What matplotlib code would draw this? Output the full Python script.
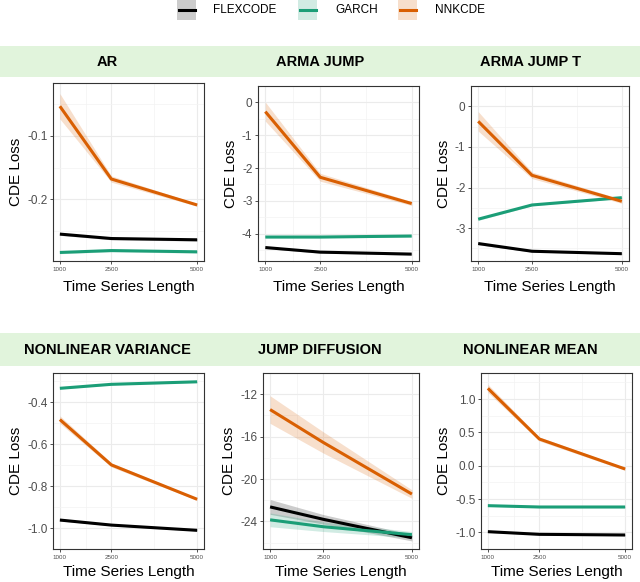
import matplotlib
matplotlib.use("Agg")
import matplotlib.pyplot as plt
from matplotlib.lines import Line2D
from matplotlib.patches import Rectangle
import numpy as np

plt.rcParams['font.family'] = ['Liberation Sans', 'DejaVu Sans']

lengths = [1000, 2500, 5000]
methods = ["FLEXCODE", "GARCH", "NNKCDE"]
colors = {"FLEXCODE": "#000000", "GARCH": "#1B9E77", "NNKCDE": "#D95F02"}

titles = ["AR", "ARMA JUMP", "ARMA JUMP T",
          "NONLINEAR VARIANCE", "JUMP DIFFUSION", "NONLINEAR MEAN"]

# mean CDE loss per method, per panel
ar_mean = {"FLEXCODE": [-0.255, -0.262, -0.264],
           "GARCH": [-0.284, -0.281, -0.283],
           "NNKCDE": [-0.053, -0.168, -0.209]}
ar_half = {"FLEXCODE": [0.002, 0.002, 0.002],
           "GARCH": [0.002, 0.002, 0.002],
           "NNKCDE": [0.020, 0.005, 0.002]}

armaj_mean = {"FLEXCODE": [-4.42, -4.56, -4.62],
              "GARCH": [-4.10, -4.10, -4.07],
              "NNKCDE": [-0.28, -2.28, -3.08]}
armaj_half = {"FLEXCODE": [0.03, 0.03, 0.03],
              "GARCH": [0.03, 0.03, 0.03],
              "NNKCDE": [0.29, 0.12, 0.06]}

armajt_mean = {"FLEXCODE": [-3.38, -3.57, -3.63],
               "GARCH": [-2.78, -2.43, -2.25],
               "NNKCDE": [-0.37, -1.70, -2.34]}
armajt_half = {"FLEXCODE": [0.03, 0.02, 0.02],
               "GARCH": [0.03, 0.02, 0.02],
               "NNKCDE": [0.24, 0.08, 0.05]}

nlv_mean = {"FLEXCODE": [-0.962, -0.986, -1.011],
            "GARCH": [-0.334, -0.315, -0.303],
            "NNKCDE": [-0.483, -0.699, -0.863]}
nlv_half = {"FLEXCODE": [0.004, 0.003, 0.003],
            "GARCH": [0.003, 0.003, 0.003],
            "NNKCDE": [0.018, 0.010, 0.005]}

jd_mean = {"FLEXCODE": [-22.63, -23.80, -25.54],
           "GARCH": [-23.85, -24.50, -25.25],
           "NNKCDE": [-13.45, -16.55, -21.42]}
jd_half = {"FLEXCODE": [0.70, 0.45, 0.30],
           "GARCH": [0.65, 0.45, 0.30],
           "NNKCDE": [1.30, 1.00, 0.40]}

nlm_mean = {"FLEXCODE": [-0.99, -1.03, -1.04],
            "GARCH": [-0.60, -0.62, -0.62],
            "NNKCDE": [1.16, 0.40, -0.05]}
nlm_half = {"FLEXCODE": [0.01, 0.01, 0.01],
            "GARCH": [0.01, 0.01, 0.01],
            "NNKCDE": [0.06, 0.03, 0.02]}

means = [ar_mean, armaj_mean, armajt_mean, nlv_mean, jd_mean, nlm_mean]
halves = [ar_half, armaj_half, armajt_half, nlv_half, jd_half, nlm_half]

yticks = [[-0.1, -0.2], [0, -1, -2, -3, -4], [0, -1, -2, -3],
          [-0.4, -0.6, -0.8, -1.0], [-12, -16, -20, -24],
          [1.0, 0.5, 0.0, -0.5, -1.0]]
ytick_labels = [["-0.1", "-0.2"], ["0", "-1", "-2", "-3", "-4"],
                ["0", "-1", "-2", "-3"], ["-0.4", "-0.6", "-0.8", "-1.0"],
                ["-12", "-16", "-20", "-24"],
                ["1.0", "0.5", "0.0", "-0.5", "-1.0"]]
ylims = [(-0.2975, -0.0163), (-4.83, 0.28), (-3.81, 0.03),
         (-1.048, -0.261), (-26.6, -11.3), (-1.15, 1.39)]

W, H = 640, 582
fig = plt.figure(figsize=(W / 100, H / 100), dpi=100)

# panel boxes in pixels: left, right, top, bottom
boxes = [(53, 204, 83, 261), (258, 419, 86, 261), (471, 629, 86, 261),
         (53, 204, 373, 549), (263, 419, 373, 549), (481, 632, 373, 549)]

strip_color = "#E1F4DC"
for (top, bot) in [(46, 77), (333, 366)]:
    fig.patches.append(Rectangle((0, 1 - bot / H), 1, (bot - top) / H,
                                 transform=fig.transFigure, facecolor=strip_color,
                                 edgecolor="none", zorder=0))

col_centers = [107, 320, 530]
for i, (l, r, t, b) in enumerate(boxes):
    ax = fig.add_axes([l / W, 1 - b / H, (r - l) / W, (b - t) / H])
    mdict = means[i]
    hdict = halves[i]
    for m in methods:
        y = np.array(mdict[m])
        h = np.array(hdict[m])
        ax.fill_between(lengths, y - h, y + h, color=colors[m], alpha=0.2,
                        linewidth=0, zorder=2)
    for m in methods:
        ax.plot(lengths, mdict[m], color=colors[m], lw=2.2, zorder=3,
                solid_capstyle="butt")
    ax.set_xlim(800, 5200)
    ax.set_ylim(*ylims[i])
    ax.set_xticks(lengths)
    ax.set_xticklabels([str(v) for v in lengths], fontsize=4.5, color="#4D4D4D")
    ax.set_xticks([1750, 3750], minor=True)
    yt = yticks[i]
    ax.set_yticks(yt)
    ax.set_yticklabels(ytick_labels[i], fontsize=8.5, color="#4D4D4D")
    step = abs(yt[0] - yt[1])
    lo = min(yt) - step / 2
    minors = []
    v = lo
    while v <= max(yt) + step:
        minors.append(round(v, 6))
        v += step
    ax.set_yticks(minors, minor=True)
    ax.grid(True, which="major", color="#EBEBEB", lw=0.8, zorder=0)
    ax.grid(True, which="minor", color="#F3F3F3", lw=0.5, zorder=0)
    ax.set_axisbelow(True)
    ax.tick_params(which="major", length=2.5, width=0.6, color="#333333", pad=1.5)
    ax.tick_params(which="minor", length=0)
    for s in ax.spines.values():
        s.set_color("#333333")
        s.set_linewidth(0.8)
    row = i // 3
    col = i % 3
    ax.set_xlabel("Time Series Length", fontsize=11, labelpad=6 if row == 0 else 4)
    ax.set_ylabel("CDE Loss", fontsize=11, labelpad=3)
    ty = 61.5 if row == 0 else 349.5
    fig.text(col_centers[col] / W, 1 - ty / H, titles[i], ha="center", va="center",
             fontsize=10.5, fontweight="bold")

# legend at top
leg_items = [("FLEXCODE", 177, 213), ("GARCH", 298, 335), ("NNKCDE", 398, 435)]
for name, kx, tx in leg_items:
    fig.patches.append(Rectangle((kx / W, 1 - 20 / H), 19 / W, 20 / H,
                                 transform=fig.transFigure, facecolor=colors[name],
                                 alpha=0.2, edgecolor="none"))
    fig.lines.append(Line2D([(kx + 1.5) / W, (kx + 17.5) / W], [1 - 10 / H, 1 - 10 / H],
                            transform=fig.transFigure, color=colors[name], lw=2.2))
    fig.text(tx / W, 1 - 10 / H, name, ha="left", va="center", fontsize=8.5)

fig.savefig("out.png", dpi=100)
